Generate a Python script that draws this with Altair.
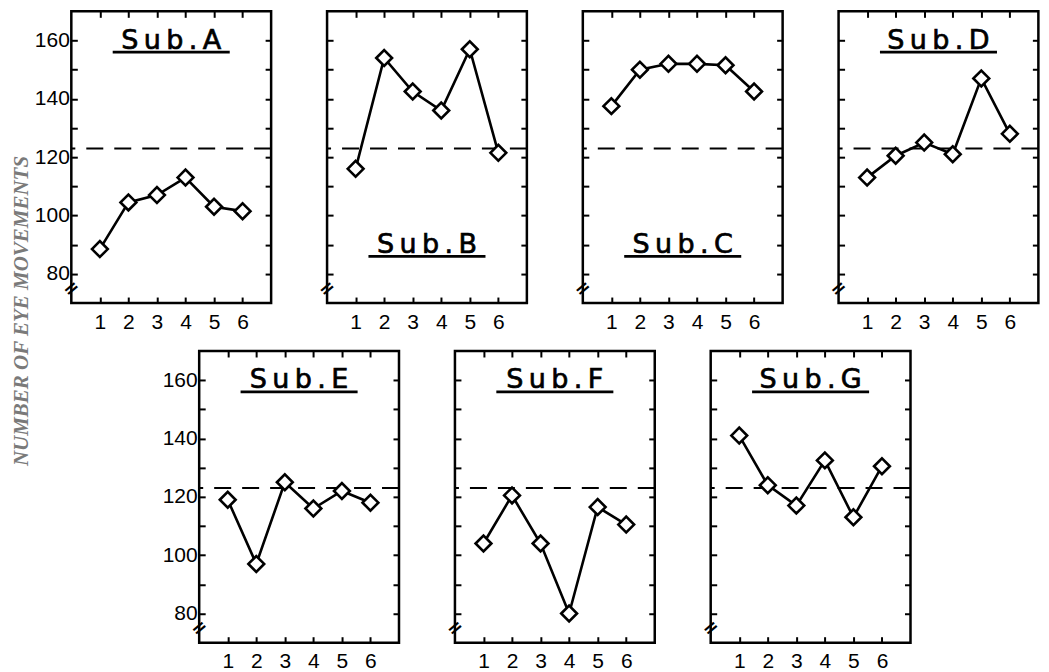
import altair as alt
import pandas as pd

# ---- data ----
TRIALS = [1, 2, 3, 4, 5, 6]
SUBJECT_NAMES = ["Sub.A", "Sub.B", "Sub.C", "Sub.D", "Sub.E", "Sub.F", "Sub.G"]
SUB_A = [88.5, 104.5, 107.0, 113.0, 103.0, 101.5]
SUB_B = [116.0, 154.0, 142.5, 136.0, 157.0, 121.5]
SUB_C = [137.5, 150.0, 152.0, 152.0, 151.5, 142.5]
SUB_D = [113.0, 120.5, 125.0, 121.0, 147.0, 128.0]
SUB_E = [119.0, 97.0, 125.0, 116.0, 122.0, 118.0]
SUB_F = [104.0, 120.5, 104.0, 80.0, 116.5, 110.5]
SUB_G = [141.0, 124.0, 117.0, 132.5, 113.0, 130.5]
REFERENCE_LEVEL = [123]
Y_TICKS = [80, 90, 100, 110, 120, 130, 140, 150, 160]
Y_LABELS = [80, 100, 120, 140, 160]
TITLE_AT_BOTTOM = ["Sub.B", "Sub.C"]
Y_TITLE = "NUMBER OF EYE MOVEMENTS"

W, H = 200, 292
LABEL_FONT = "Liberation Sans"
X_DOMAIN = [0, 7]
Y_DOMAIN = [70, 170]


def panel(name, values, show_y):
    df = pd.DataFrame({"trial": TRIALS, "value": values})
    ref = pd.DataFrame({"level": REFERENCE_LEVEL})
    lab = pd.DataFrame({"label": ["\u2009".join(name)]})
    one = pd.DataFrame({"k": [0]})
    xs = alt.Scale(domain=X_DOMAIN, nice=False, zero=False)
    ys = alt.Scale(domain=Y_DOMAIN, nice=False, zero=False)

    tick_axis = dict(labels=False, domain=False, grid=False, title=None,
                     ticks=True, tickSize=6, tickWidth=2, tickColor="black",
                     minExtent=0, maxExtent=6)
    x_axis = alt.Axis(values=TRIALS, orient="bottom", ticks=False, domain=False,
                      grid=False, title=None, labelFontSize=21, labelPadding=8,
                      labelFont=LABEL_FONT, labelColor="black", format="d",
                      minExtent=0)
    if show_y:
        y_axis = alt.Axis(values=Y_LABELS, orient="left", ticks=False, domain=False,
                          grid=False, title=None, labelFontSize=21, labelPadding=2,
                          labelFont=LABEL_FONT, labelColor="black", minExtent=0)
    else:
        y_axis = None

    ref_rule = alt.Chart(ref).mark_rule(color="black", strokeWidth=2,
                                        strokeDash=[17, 11]).encode(
        y=alt.Y("level:Q", scale=ys, axis=None))
    line = alt.Chart(df).mark_line(color="black", strokeWidth=2.6).encode(
        x=alt.X("trial:Q", scale=xs, axis=x_axis),
        y=alt.Y("value:Q", scale=ys, axis=y_axis))
    pts = alt.Chart(df).mark_point(shape="diamond", size=250, filled=True,
                                   fill="white", stroke="black", strokeWidth=2.6,
                                   opacity=1).encode(
        x=alt.X("trial:Q", scale=xs, axis=None),
        y=alt.Y("value:Q", scale=ys, axis=None))

    if name in TITLE_AT_BOTTOM:
        ty, uy = 87.2, 86.0
    else:
        ty, uy = 157.2, 156.0
    title_txt = alt.Chart(lab).mark_text(font="DejaVu Sans", fontSize=27,
                                         align="center", baseline="alphabetic",
                                         color="black", stroke="black",
                                         strokeWidth=0.7).encode(
        x=alt.XDatum(3.5, scale=xs, axis=None),
        y=alt.YDatum(ty, scale=ys, axis=None),
        text="label:N")
    underline = alt.Chart(one).mark_rule(color="black", strokeWidth=2.6).encode(
        x=alt.XDatum(1.45, scale=xs, axis=None),
        x2=alt.X2Datum(5.55),
        y=alt.YDatum(uy, scale=ys, axis=None))
    brk = alt.Chart(one).mark_text(text="=", font="DejaVu Sans", fontSize=19,
                                   fontWeight="bold", angle=320, color="black",
                                   align="center", baseline="middle").encode(
        x=alt.XDatum(0, scale=xs, axis=None),
        y=alt.YDatum(75, scale=ys, axis=None))

    ticks_a = alt.Chart(df).mark_point(opacity=0).encode(
        x=alt.X("trial:Q", scale=xs,
                axis=alt.Axis(values=TRIALS, orient="top", offset=-H, **tick_axis)),
        y=alt.Y("value:Q", scale=ys,
                axis=alt.Axis(values=Y_TICKS, orient="right", offset=-W, **tick_axis)))
    ticks_b = alt.Chart(df).mark_point(opacity=0).encode(
        x=alt.X("trial:Q", scale=xs,
                axis=alt.Axis(values=TRIALS, orient="bottom", offset=-H, **tick_axis)),
        y=alt.Y("value:Q", scale=ys,
                axis=alt.Axis(values=Y_TICKS, orient="left", offset=-W, **tick_axis)))

    return alt.layer(ref_rule, line, pts, title_txt, underline, brk, ticks_a, ticks_b).resolve_axis(
        x="independent", y="independent").properties(width=W, height=H)


series = [SUB_A, SUB_B, SUB_C, SUB_D, SUB_E, SUB_F, SUB_G]
panels = [panel(n, v, n in ("Sub.A", "Sub.E")) for n, v in zip(SUBJECT_NAMES, series)]

top = alt.hconcat(*panels[:4], spacing=56, bounds="flush")
bottom = alt.hconcat(*panels[4:], spacing=56, bounds="flush")

chart = alt.vconcat(top, bottom, spacing=14, center=True).properties(
    padding={"left": 3, "top": 0, "right": 0, "bottom": 0},
    title=alt.TitleParams(text=Y_TITLE, orient="left", anchor="middle",
                          font="Liberation Serif", fontSize=21, fontStyle="italic",
                          fontWeight="bold", color="#7a7a7a", offset=1, dx=30)
).configure_view(stroke="black", strokeWidth=2.5)

chart.save("out.html", embed_options={"renderer": "svg", "actions": False})
